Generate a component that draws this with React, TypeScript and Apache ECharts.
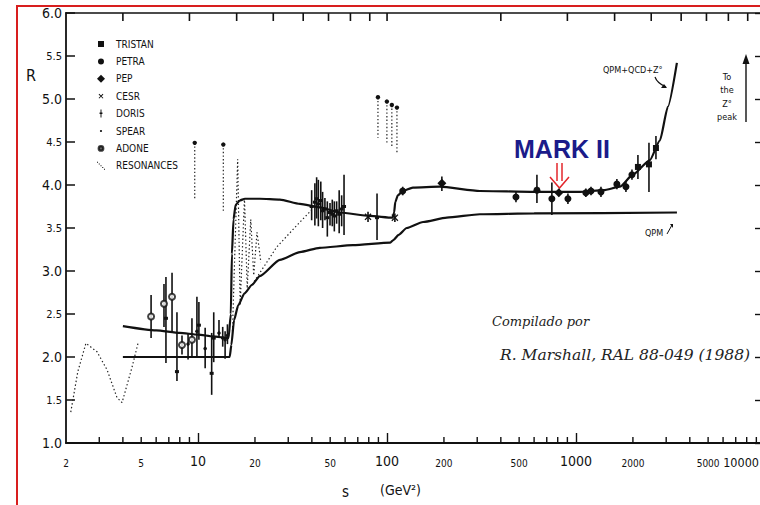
import React, { useEffect, useRef } from 'react';
import * as echarts from 'echarts';

// [s (GeV^2), R, R low, R high]
type Pt = [number, number, number, number];

const tristan: Pt[] = [
  [2126, 4.21, 4.07, 4.35],
  [2432, 4.24, 3.92, 4.49],
  [2648, 4.43, 4.3, 4.57],
];
const petra: Pt[] = [
  [121, 3.93, 3.88, 3.98],
  [481, 3.86, 3.8, 3.92],
  [621, 3.94, 3.79, 4.12],
  [745, 3.84, 3.65, 4.03],
  [906, 3.84, 3.78, 3.9],
  [1127, 3.91, 3.86, 3.96],
  [1200, 3.93, 3.88, 3.98],
  [1355, 3.92, 3.86, 3.98],
  [1645, 4.01, 3.95, 4.07],
  [1837, 3.98, 3.92, 4.04],
  [1977, 4.12, 4.06, 4.18],
];
const pep: Pt[] = [
  [811, 3.91, 3.87, 3.95],
  [195, 4.02, 3.93, 4.1],
];
const cesr: Pt[] = [
  [79.3, 3.63, 3.57, 3.69],
  [110, 3.62, 3.57, 3.67],
];
const doris: Pt[] = [
  [6.76, 2.45, 1.93, 2.93],
  [7.73, 1.83, 1.72, 2.52],
  [10.1, 2.37, 2.2, 2.64],
  [11.8, 1.81, 1.56, 2.28],
  [12.1, 2.22, 1.94, 2.52],
  [39.9, 3.75, 3.59, 3.94],
  [41.5, 3.8, 3.53, 4.02],
  [42.4, 3.84, 3.61, 4.09],
  [43.3, 3.78, 3.52, 4.06],
  [44.6, 3.82, 3.59, 4.04],
  [45.6, 3.7, 3.5, 3.92],
  [46.9, 3.72, 3.59, 3.85],
  [48.3, 3.62, 3.4, 3.81],
  [49.9, 3.68, 3.53, 3.79],
  [51.3, 3.66, 3.52, 3.83],
  [52.6, 3.64, 3.46, 3.81],
  [54.1, 3.7, 3.55, 3.81],
  [55.8, 3.66, 3.44, 3.94],
  [57.5, 3.72, 3.52, 3.88],
  [59.2, 3.75, 3.42, 4.12],
  [88.5, 3.62, 3.36, 3.9],
];
const spear: Pt[] = [
  [8.85, 2.15, 1.97, 2.28],
  [9.86, 2.3, 2.0, 2.7],
  [10.9, 2.1, 1.87, 2.34],
  [12.9, 2.28, 2.23, 2.43],
  [13.5, 2.22, 2.12, 2.35],
  [13.9, 2.2, 1.98, 2.3],
  [14.3, 2.25, 2.15, 2.38],
];
const adone: Pt[] = [
  [5.64, 2.47, 2.22, 2.72],
  [6.6, 2.62, 2.35, 2.85],
  [7.28, 2.7, 2.3, 2.98],
  [8.22, 2.14, 2.03, 2.25],
  [9.28, 2.2, 2.0, 2.45],
];

// theory curves [s, R]
const qcdCurve: [number, number][] = [
  [4.0, 2.36], [6, 2.31], [8, 2.28], [10, 2.26], [12, 2.24], [14.5, 2.22],
  [14.9, 2.5], [15.1, 3.2], [15.4, 3.6], [15.8, 3.77], [16.6, 3.82], [17.7, 3.84],
  [21.2, 3.84], [27.1, 3.83], [34.6, 3.78], [44.2, 3.74], [56.4, 3.68], [81, 3.64],
  [107, 3.62], [109, 3.68], [110.5, 3.8], [114, 3.88], [121, 3.93], [137, 3.97],
  [190, 3.98], [310, 3.93], [600, 3.92], [1049, 3.92], [1400, 3.94], [1706, 3.98],
  [2000, 4.12], [2460, 4.29], [2780, 4.52], [3062, 4.91], [3418, 5.42],
];
const qpmCurve: [number, number][] = [
  [4, 2.0], [14.7, 2.0], [15.0, 2.14], [15.5, 2.43], [16.3, 2.6], [17.6, 2.74],
  [19.3, 2.84], [21.2, 2.94], [27.1, 3.13], [34.6, 3.22], [44, 3.27], [66, 3.3],
  [104, 3.33], [108, 3.36], [115, 3.42], [127, 3.5], [155, 3.57], [207, 3.62],
  [310, 3.66], [600, 3.67], [3420, 3.68],
];

// resonance region (dotted)
const resonanceLow: [number, number][] = [
  [2.12, 1.36], [2.31, 1.83], [2.55, 2.16], [2.92, 2.06], [3.3, 1.85],
  [3.72, 1.53], [3.96, 1.47], [4.47, 1.88], [4.81, 2.16],
];
const resonanceCharm: [number, number][] = [
  [15.2, 2.3], [16.2, 4.3], [16.7, 2.6], [17.6, 3.85], [18.2, 2.8],
  [19.0, 3.6], [19.7, 2.95], [20.5, 3.45], [21.5, 3.1],
];
const resonanceRise: [number, number][] = [
  [19.3, 2.84], [22.6, 3.07], [26.1, 3.28], [33.3, 3.53], [39.9, 3.71],
];
// narrow resonances: [s, R top, R bottom]
const resonanceSpikes: [number, number, number][] = [
  [9.6, 4.49, 3.83],
  [13.6, 4.47, 3.69],
  [89.5, 5.02, 4.55],
  [99.8, 4.97, 4.49],
  [106, 4.93, 4.43],
  [112.8, 4.9, 4.38],
];

// axis decorations
const minorTickS = [
  3, 4, 5, 6, 7, 8, 9, 20, 30, 40, 50, 60, 70, 80, 90,
  200, 300, 400, 500, 600, 700, 800, 900, 2000, 3000, 4000, 5000, 6000, 7000, 8000, 9000,
];
const topTickRootS = [2, 3, 4, 5, 6, 7, 8, 9, 10, 20, 30, 40, 50, 60, 70, 80, 90];
const smallXLabels = [2, 5, 20, 50, 200, 500, 2000, 5000];
const edgeXLabel = [10000];

const FONT = "'DejaVu Sans Condensed', 'Liberation Sans Narrow', 'DejaVu Sans', sans-serif";
const INK = '#111';

export default function App() {
  const ref = useRef<HTMLDivElement>(null);

  useEffect(() => {
    if (!ref.current) return;
    const chart = echarts.init(ref.current, undefined, { renderer: 'svg' });

    const allPts: Pt[] = [...tristan, ...petra, ...pep, ...cesr, ...doris, ...spear, ...adone];

    const scatter = (name: string, data: Pt[], symbol: any, size: any, extra: any = {}) => ({
      type: 'scatter',
      name,
      data: data.map((p) => [p[0], p[1]]),
      symbol,
      symbolSize: size,
      itemStyle: { color: INK, opacity: 1, ...extra },
      z: 5,
      silent: true,
    });

    const dotted = (data: [number, number][]) => ({
      type: 'line',
      name: 'res-dotted',
      data,
      showSymbol: false,
      symbol: 'none',
      lineStyle: { color: '#222', width: 1.2, type: [1.4, 2.4] },
      z: 2,
      silent: true,
    });

    const option: any = {
      animation: false,
      backgroundColor: '#fff',
      grid: { left: 66, top: 13, width: 699, height: 430, outerBoundsMode: 'none', containLabel: false },
      xAxis: [
        {
          type: 'log',
          logBase: 10,
          min: 2,
          max: 10000,
          position: 'bottom',
          axisLine: { show: true, onZero: false, lineStyle: { color: INK, width: 1.8 } },
          axisTick: { show: true, inside: true, length: 10, lineStyle: { color: INK, width: 1.4 } },
          axisLabel: {
            margin: 11,
            showMinLabel: false,
            showMaxLabel: false,
            formatter: (v: number) => `{b|${Math.round(v)}}`,
            rich: { b: { fontSize: 14, fontFamily: FONT, color: INK } },
          },
          splitLine: { show: false },
        },
        {
          type: 'log',
          logBase: 10,
          min: 2,
          max: 10000,
          position: 'top',
          axisLine: { show: true, onZero: false, lineStyle: { color: INK, width: 1.6 } },
          axisTick: { show: false },
          axisLabel: { show: false },
          splitLine: { show: false },
        },
      ],
      yAxis: [
        {
          type: 'value',
          min: 1,
          max: 6,
          interval: 0.5,
          position: 'left',
          axisLine: { show: true, lineStyle: { color: INK, width: 1.8 } },
          axisTick: { show: true, inside: true, length: 9, lineStyle: { color: INK, width: 1.5 } },
          axisLabel: {
            margin: 4,
            formatter: (v: number) =>
              Math.abs(v - Math.round(v)) < 1e-6 ? `{b|${v.toFixed(1)}}` : `{s|${v.toFixed(1)}}`,
            rich: {
              b: { fontSize: 14, fontFamily: FONT, color: INK },
              s: { fontSize: 11, fontFamily: FONT, color: INK },
            },
          },
          splitLine: { show: false },
        },
        {
          type: 'value',
          min: 1,
          max: 6,
          interval: 0.5,
          position: 'right',
          axisLine: { show: true, lineStyle: { color: INK, width: 1.5 } },
          axisTick: { show: true, inside: true, length: 10, lineStyle: { color: INK, width: 1.4 } },
          axisLabel: { show: false },
          splitLine: { show: false },
        },
      ],
      legend: {
        orient: 'vertical',
        left: 96,
        top: 38,
        padding: 0,
        itemWidth: 8,
        itemHeight: 8,
        itemGap: 5.4,
        selectedMode: false,
        textStyle: { fontSize: 10, lineHeight: 12, fontFamily: FONT, color: INK, padding: [0, 0, 0, 6] },
        data: [
          { name: 'TRISTAN', icon: 'path://M0,0 L0.01,0 Z M8,8 L8.01,8 Z M1,1 H7 V7 H1 Z' },
          { name: 'PETRA', icon: 'path://M0,0 L0.01,0 Z M8,8 L8.01,8 Z M1,4 A3,3 0 1 1 7,4 A3,3 0 1 1 1,4 Z' },
          { name: 'PEP', icon: 'diamond' },
          { name: 'CESR', icon: 'path://M0,0 L0.01,0 Z M10,10 L10.01,10 Z M2,2.8 L2.8,2 L5,4.2 L7.2,2 L8,2.8 L5.8,5 L8,7.2 L7.2,8 L5,5.8 L2.8,8 L2,7.2 L4.2,5 Z' },
          { name: 'DORIS', icon: 'path://M4.4,0 H5.6 V10 H4.4 Z M3.2,3.6 H6.8 V5.4 H3.2 Z' },
          { name: 'SPEAR', icon: 'path://M0,0 L0.01,0 Z M10,10 L10.01,10 Z M3.6,5 A1.4,1.4 0 1 1 6.4,5 A1.4,1.4 0 1 1 3.6,5 Z' },
          { name: 'ADONE', icon: 'path://M0,0 L0.01,0 Z M10,10 L10.01,10 Z M2,5 A3,3 0 1 1 8,5 A3,3 0 1 1 2,5 Z M3.3,5 A1.7,1.7 0 1 0 6.7,5 A1.7,1.7 0 1 0 3.3,5 Z' },
          { name: 'RESONANCES', icon: 'path://M0,0h1.3v1.3h-1.3Z M2.2,2.2h1.3v1.3h-1.3Z M4.4,4.4h1.3v1.3h-1.3Z M6.6,6.6h1.3v1.3h-1.3Z M8.8,8.8h1.3v1.3h-1.3Z' },
        ],
      },
      series: [
        // error bars
        {
          type: 'custom',
          name: 'error-bars',
          silent: true,
          z: 4,
          data: allPts.map((p) => [p[0], p[2], p[3]]),
          encode: { x: 0, y: [1, 2] },
          renderItem: (_p: any, api: any) => {
            const a = api.coord([api.value(0), api.value(1)]);
            const b = api.coord([api.value(0), api.value(2)]);
            return {
              type: 'line',
              shape: { x1: a[0], y1: a[1], x2: b[0], y2: b[1] },
              style: { stroke: INK, lineWidth: 1.6 },
            };
          },
        },
        // theory curves
        {
          type: 'line',
          name: 'QPM+QCD+Z',
          data: qcdCurve,
          showSymbol: false,
          symbol: 'none',
          smooth: 0.2,
          smoothMonotone: 'x',
          lineStyle: { color: INK, width: 2.2 },
          z: 3,
          silent: true,
        },
        {
          type: 'line',
          name: 'QPM',
          data: qpmCurve,
          showSymbol: false,
          symbol: 'none',
          smooth: 0.2,
          smoothMonotone: 'x',
          lineStyle: { color: INK, width: 2.2 },
          z: 3,
          silent: true,
        },
        dotted(resonanceLow),
        dotted(resonanceCharm),
        dotted(resonanceRise),
        {
          type: 'custom',
          name: 'RESONANCES',
          silent: true,
          z: 3,
          itemStyle: { color: INK },
          data: resonanceSpikes,
          encode: { x: 0, y: [1, 2] },
          renderItem: (_p: any, api: any) => {
            const t = api.coord([api.value(0), api.value(1)]);
            const b = api.coord([api.value(0), api.value(2)]);
            return {
              type: 'group',
              children: [
                {
                  type: 'line',
                  shape: { x1: t[0], y1: t[1], x2: b[0], y2: b[1] },
                  style: { stroke: '#222', lineWidth: 1.2, lineDash: [1.4, 2.2] },
                },
                { type: 'circle', shape: { cx: t[0], cy: t[1], r: 2.2 }, style: { fill: INK } },
              ],
            };
          },
        },
        scatter('TRISTAN', tristan, 'rect', 6),
        scatter('PETRA', petra, 'circle', 7),
        scatter('PEP', pep, 'diamond', 9),
        scatter('CESR', cesr, 'path://M2,2.8 L2.8,2 L5,4.2 L7.2,2 L8,2.8 L5.8,5 L8,7.2 L7.2,8 L5,5.8 L2.8,8 L2,7.2 L4.2,5 Z', 7),
        scatter('DORIS', doris, 'rect', [4, 3]),
        scatter('SPEAR', spear, 'circle', 3.5),
        {
          ...scatter('ADONE', adone, 'emptyCircle', 6),
          itemStyle: { color: INK, borderColor: INK, borderWidth: 1.2 },
        },
        // minor ticks on bottom axis
        {
          type: 'custom',
          name: 'minor-ticks',
          silent: true,
          z: 6,
          data: minorTickS.map((s) => [s, 1]),
          encode: { x: 0, y: 1 },
          renderItem: (_p: any, api: any) => {
            const c = api.coord([api.value(0), 1]);
            return {
              type: 'line',
              shape: { x1: c[0], y1: c[1], x2: c[0], y2: c[1] - 6 },
              style: { stroke: INK, lineWidth: 1.4 },
            };
          },
        },
        // sqrt(s) ticks along the top axis
        {
          type: 'custom',
          name: 'top-ticks',
          silent: true,
          z: 6,
          data: topTickRootS.map((r) => [r * r, 6]),
          encode: { x: 0, y: 1 },
          renderItem: (_p: any, api: any) => {
            const c = api.coord([api.value(0), 6]);
            return {
              type: 'line',
              shape: { x1: c[0], y1: c[1], x2: c[0], y2: c[1] + 8 },
              style: { stroke: INK, lineWidth: 1.6 },
            };
          },
        },
        // small x-axis labels
        {
          type: 'custom',
          name: 'x-labels',
          silent: true,
          z: 6,
          data: smallXLabels.map((s) => [s, 1]),
          encode: { x: 0, y: 1 },
          renderItem: (_p: any, api: any) => {
            const c = api.coord([api.value(0), 1]);
            return {
              type: 'text',
              x: c[0],
              y: c[1] + 20,
              style: {
                text: String(api.value(0)),
                fontSize: 10,
                fontFamily: FONT,
                fill: INK,
                align: 'center',
                verticalAlign: 'middle',
              },
            };
          },
        },
        // last x label, kept inside the page
        {
          type: 'custom',
          name: 'x-label-edge',
          silent: true,
          z: 6,
          data: edgeXLabel.map((s) => [s, 1]),
          encode: { x: 0, y: 1 },
          renderItem: (_p: any, api: any) => {
            const c = api.coord([api.value(0), 1]);
            return {
              type: 'text',
              x: c[0] - 6,
              y: c[1] + 19,
              style: {
                text: String(api.value(0)),
                fontSize: 12.5,
                fontFamily: FONT,
                fill: INK,
                align: 'right',
                verticalAlign: 'middle',
              },
            };
          },
        },
      ],
      graphic: [
        {
          type: 'rect',
          silent: true,
          shape: { x: 17, y: 6, width: 800, height: 600 },
          style: { fill: 'none', stroke: '#d81e1e', lineWidth: 2 },
          z: 100,
        },
        { type: 'text', x: 26, y: 67, style: { text: 'R', fontSize: 16, fontFamily: FONT, fill: INK } },
        { type: 'text', x: 342, y: 484, style: { text: 's', fontSize: 15, fontFamily: FONT, fill: INK } },
        { type: 'text', x: 380, y: 483, style: { text: '(GeV²)', fontSize: 14, fontFamily: FONT, fill: INK } },
        {
          type: 'text',
          x: 514,
          y: 136,
          style: { text: 'MARK II', fontSize: 25, fontWeight: 'bold', fontFamily: "'Liberation Sans', Arial, sans-serif", fill: '#1b1b8a' },
        },
        { type: 'line', shape: { x1: 557, y1: 163, x2: 557, y2: 181 }, style: { stroke: '#e3262b', lineWidth: 1.5 } },
        { type: 'line', shape: { x1: 562, y1: 163, x2: 562, y2: 181 }, style: { stroke: '#e3262b', lineWidth: 1.5 } },
        { type: 'polyline', shape: { points: [[550, 177], [559.5, 188], [569, 177]] }, style: { stroke: '#e3262b', lineWidth: 1.5, fill: 'none' } },
        { type: 'text', x: 603, y: 65, style: { text: 'QPM+QCD+Z°', fontSize: 9, fontFamily: FONT, fill: INK } },
        { type: 'bezierCurve', shape: { x1: 655, y1: 77, cpx1: 657, cpy1: 83, x2: 666, y2: 87 }, style: { stroke: INK, lineWidth: 1.2, fill: 'none' } },
        { type: 'polygon', shape: { points: [[667, 88], [661, 88], [664, 84]] }, style: { fill: INK } },
        { type: 'text', x: 645, y: 228, style: { text: 'QPM', fontSize: 9, fontFamily: FONT, fill: INK } },
        { type: 'line', shape: { x1: 667, y1: 234, x2: 672, y2: 225 }, style: { stroke: INK, lineWidth: 1 } },
        { type: 'polygon', shape: { points: [[670, 224], [673, 224], [673, 228]] }, style: { fill: INK } },
        {
          type: 'text',
          x: 727,
          y: 70,
          style: { text: 'To\nthe\nZ°\npeak', fontSize: 9, lineHeight: 13.5, fontFamily: FONT, fill: INK, align: 'center' },
        },
        { type: 'line', shape: { x1: 746, y1: 122, x2: 746, y2: 58 }, style: { stroke: INK, lineWidth: 1.4 } },
        { type: 'polygon', shape: { points: [[742.5, 64], [746, 54], [749.5, 64]] }, style: { fill: INK } },
        {
          type: 'text',
          x: 492,
          y: 315,
          style: { text: 'Compilado por', fontSize: 13, fontStyle: 'italic', fontFamily: "'DejaVu Serif', serif", fill: '#222' },
        },
        {
          type: 'text',
          x: 500,
          y: 347,
          style: { text: 'R. Marshall, RAL 88-049 (1988)', fontSize: 15.5, fontStyle: 'italic', fontFamily: "'DejaVu Serif', serif", fill: '#222' },
        },
      ],
    };

    chart.setOption(option);
    return () => chart.dispose();
  }, []);

  return (
    <div
      ref={ref}
      style={{ position: 'fixed', left: 0, top: 0, width: 760, height: 505, background: '#fff' }}
    />
  );
}
